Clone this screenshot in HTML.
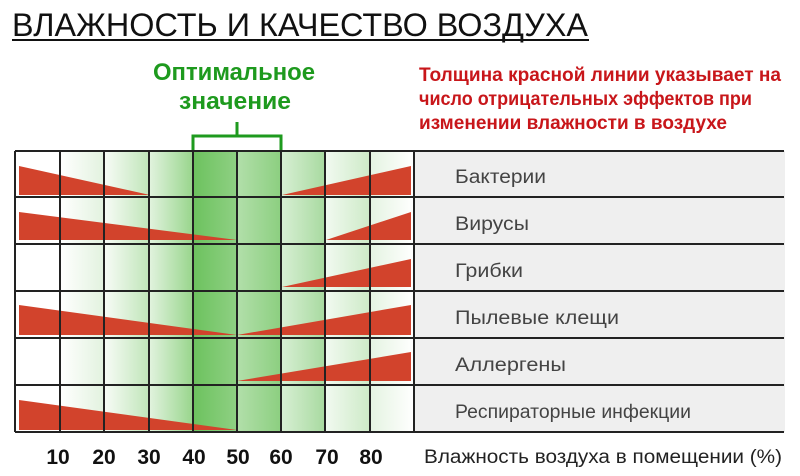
<!DOCTYPE html>
<html><head><meta charset="utf-8"><style>body{margin:0;background:#fff}svg{display:block}</style></head><body>
<svg width="800" height="476" viewBox="0 0 800 476" xmlns="http://www.w3.org/2000/svg" font-family="Liberation Sans, sans-serif">
<defs>
<linearGradient id="g1" x1="0" x2="1"><stop offset="0" stop-color="#fff"/><stop offset="1" stop-color="#e2f2df"/></linearGradient>
<linearGradient id="g2" x1="0" x2="1"><stop offset="0" stop-color="#f8fcf7"/><stop offset="1" stop-color="#c0e5b9"/></linearGradient>
<linearGradient id="g3" x1="0" x2="1"><stop offset="0" stop-color="#e2f3df"/><stop offset="1" stop-color="#98d58c"/></linearGradient>
<linearGradient id="g4" x1="0" x2="1"><stop offset="0" stop-color="#b6e1ae"/><stop offset="1" stop-color="#64be55"/></linearGradient>
<linearGradient id="g6" x1="0" x2="1"><stop offset="0" stop-color="#b2dfaa"/><stop offset="1" stop-color="#8ccf80"/></linearGradient>
<linearGradient id="g7" x1="0" x2="1"><stop offset="0" stop-color="#d8efd4"/><stop offset="1" stop-color="#a8daa0"/></linearGradient>
<linearGradient id="g8" x1="0" x2="1"><stop offset="0" stop-color="#f2faf1"/><stop offset="1" stop-color="#cdeac7"/></linearGradient>
<linearGradient id="g9" x1="0" x2="1"><stop offset="0" stop-color="#e4f3e1"/><stop offset="1" stop-color="#fff"/></linearGradient>
<linearGradient id="g5" x1="0" x2="1"><stop offset="0" stop-color="#6cc25e"/><stop offset="1" stop-color="#8fd083"/></linearGradient>
</defs>
<text x="12" y="36" font-size="32" textLength="576" lengthAdjust="spacingAndGlyphs" fill="#111">ВЛАЖНОСТЬ И КАЧЕСТВО ВОЗДУХА</text>
<rect x="12" y="39" width="577" height="2" fill="#111"/>
<g fill="#1e9a1e" font-weight="bold" font-size="24" text-anchor="middle">
<text x="234" y="80" textLength="162" lengthAdjust="spacingAndGlyphs">Оптимальное</text>
<text x="235" y="109" textLength="112" lengthAdjust="spacingAndGlyphs">значение</text>
</g>
<path d="M193,151 V136 H281 V151 M237,136 V122" stroke="#1e9a1e" stroke-width="3" fill="none"/>
<g fill="#c8161a" font-weight="bold" font-size="19">
<text x="419" y="81" textLength="362" lengthAdjust="spacingAndGlyphs">Толщина красной линии указывает на</text>
<text x="419" y="105" textLength="333" lengthAdjust="spacingAndGlyphs">число отрицательных  эффектов при</text>
<text x="419" y="129" textLength="308" lengthAdjust="spacingAndGlyphs">изменении  влажности в воздухе</text>
</g>
<rect x="60" y="151" width="44" height="281" fill="url(#g1)"/>
<rect x="104" y="151" width="45" height="281" fill="url(#g2)"/>
<rect x="149" y="151" width="44" height="281" fill="url(#g3)"/>
<rect x="193" y="151" width="44" height="281" fill="url(#g5)"/>
<rect x="237" y="151" width="44" height="281" fill="url(#g6)"/>
<rect x="281" y="151" width="44" height="281" fill="url(#g7)"/>
<rect x="325" y="151" width="45" height="281" fill="url(#g8)"/>
<rect x="370" y="151" width="44" height="281" fill="url(#g9)"/>
<rect x="415" y="151" width="370" height="281" fill="#efefef"/>
<g fill="#d2432c">
<polygon points="19,166 19,195 150,195"/>
<polygon points="282,195 411,166 411,195"/>
<polygon points="19,212 19,240 237,240"/>
<polygon points="326,240 411,212 411,240"/>
<polygon points="282,287 411,259 411,287"/>
<polygon points="19,305 19,335 237,335"/>
<polygon points="237,335 411,305 411,335"/>
<polygon points="237,381 411,352 411,381"/>
<polygon points="19,400 19,430 237,430"/>
</g>
<g stroke="#222" stroke-width="2">
<path d="M15,151 V432 M60,151 V432 M104,151 V432 M149,151 V432 M193,151 V432 M237,151 V432 M281,151 V432 M325,151 V432 M370,151 V432 M414,151 V432"/>
<path d="M15,151 H784 M15,197 H784 M15,244 H784 M15,291 H784 M15,338 H784 M15,385 H784 M15,432 H784"/>
</g>
<g fill="#444" font-size="19">
<text x="455" y="183" textLength="91" lengthAdjust="spacingAndGlyphs">Бактерии</text>
<text x="455" y="230" textLength="74" lengthAdjust="spacingAndGlyphs">Вирусы</text>
<text x="455" y="277" textLength="68" lengthAdjust="spacingAndGlyphs">Грибки</text>
<text x="455" y="324" textLength="164" lengthAdjust="spacingAndGlyphs">Пылевые клещи</text>
<text x="455" y="371" textLength="111" lengthAdjust="spacingAndGlyphs">Аллергены</text>
<text x="455" y="418" textLength="236" lengthAdjust="spacingAndGlyphs">Респираторные инфекции</text>
</g>
<g fill="#111" font-size="21" font-weight="bold" text-anchor="middle">
<text x="58" y="464">10</text><text x="104" y="464">20</text><text x="149" y="464">30</text><text x="194" y="464">40</text><text x="238" y="464">50</text><text x="281" y="464">60</text><text x="327" y="464">70</text><text x="371" y="464">80</text>
</g>
<text x="424" y="463" font-size="19" fill="#222" textLength="358" lengthAdjust="spacingAndGlyphs">Влажность воздуха в помещении (%)</text>
</svg>
</body></html>
